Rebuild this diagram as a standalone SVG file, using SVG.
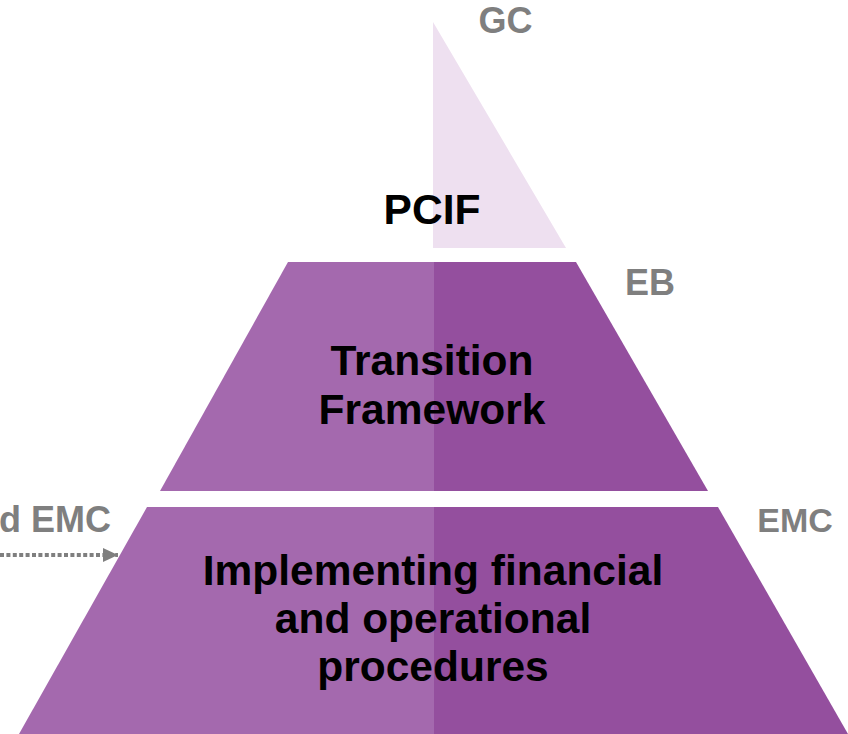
<svg xmlns="http://www.w3.org/2000/svg" width="848" height="734" viewBox="0 0 848 734">
  <defs>
    <style>
      .t { font-family: "Liberation Sans", Arial, sans-serif; font-weight: bold; text-anchor: middle; }
      .lbl { fill: #7f7f7f; }
      .main { fill: #000000; font-size: 42.5px; }
      .lt { fill: #a469ae; }
      .dk { fill: #944f9e; }
    </style>
    <marker id="arr" markerWidth="16" markerHeight="16" refX="15" refY="7" orient="auto" markerUnits="userSpaceOnUse">
      <path d="M0,0 L15,7 L0,14 Z" fill="#7f7f7f"/>
    </marker>
  </defs>
  <rect width="848" height="734" fill="#ffffff"/>

  <g id="pcif">
    <polygon points="433,22 566,248 433,248" fill="#eee0f0"/>
    <text class="t main" x="432" y="224" font-size="41">PCIF</text>
  </g>

  <g id="transition-framework">
    <polygon class="lt" points="288,262 434,262 434,491 160,491"/>
    <polygon class="dk" points="434,262 576,262 708,491 434,491"/>
    <text class="t main" x="432" y="375">Transition</text>
    <text class="t main" x="432" y="424">Framework</text>
  </g>

  <g id="implementing">
    <polygon class="lt" points="147,507 434,507 434,734 19,734"/>
    <polygon class="dk" points="434,507 718,507 848,734 434,734"/>
    <text class="t main" x="433" y="585">Implementing financial</text>
    <text class="t main" x="433" y="633">and operational</text>
    <text class="t main" x="433" y="681">procedures</text>
  </g>

  <g id="labels">
    <text class="t lbl" x="505.5" y="33" font-size="36">GC</text>
    <text class="t lbl" x="650" y="295" font-size="36">EB</text>
    <text class="t lbl" x="795" y="532" font-size="34">EMC</text>
    <text class="t lbl" x="111" y="532" font-size="36" style="text-anchor:end">d EMC</text>
  </g>

  <g id="connectors">
    <line x1="0" y1="555" x2="118" y2="555" stroke="#7f7f7f" stroke-width="4" stroke-dasharray="4,2.4" marker-end="url(#arr)"/>
  </g>
</svg>
